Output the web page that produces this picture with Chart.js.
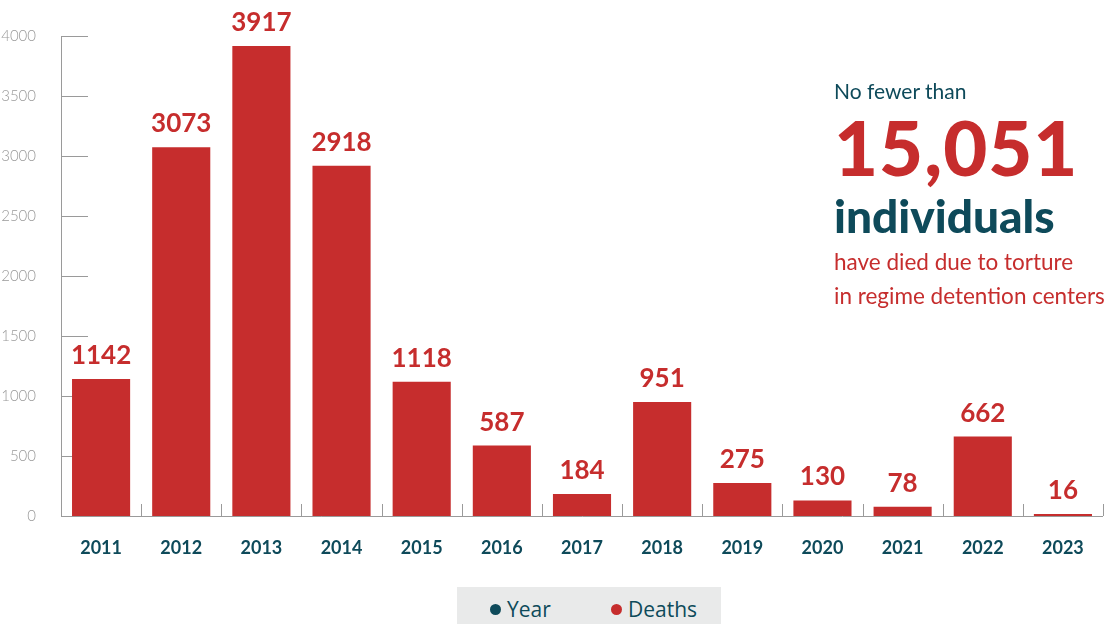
<!DOCTYPE html>
<html>
<head>
<meta charset="utf-8">
<script src="https://cdn.jsdelivr.net/npm/chart.js@4.4.1/dist/chart.umd.min.js"></script>
<style>
  html, body { margin: 0; padding: 0; background: #fff; }
  #wrap { position: relative; width: 1106px; height: 624px; font-family: Lato, sans-serif; }
  canvas { position: absolute; left: 0; top: 0; }
  .note { position: absolute; left: 834px; white-space: nowrap; }
  #legend { position: absolute; left: 457px; top: 587px; width: 264px; height: 37px; background: #e9eaea;
            font-family: 'Open Sans', sans-serif; font-size: 21px; color: #0e4a5a; }
  #legend div { position: absolute; top: 9px; line-height: 26px; }
  #legend span.dot { position: absolute; left: -17px; top: 8px; width: 11px; height: 11px; border-radius: 50%; }
</style>
</head>
<body>
<div id="wrap">
  <canvas id="deathsChart" width="1106" height="624"></canvas>
  <div class="note" style="top:78px;font-size:21px;color:#0e4a5a;">No fewer than</div>
  <div class="note" style="top:101px;font-size:76px;font-weight:900;color:#c62d2d;letter-spacing:1px;">15,051</div>
  <div class="note" style="top:188px;font-size:46px;font-weight:900;color:#0e4a5a;">individuals</div>
  <div class="note" style="top:248px;font-size:22.5px;color:#c62d2d;">have died due to torture</div>
  <div class="note" style="top:282px;font-size:22.5px;color:#c62d2d;">in regime detention centers</div>
  <div id="legend">
    <div style="left:50px"><span class="dot" style="background:#0e4a5a"></span>Year</div>
    <div style="left:171px"><span class="dot" style="background:#c62d2d"></span>Deaths</div>
  </div>
</div>
<script>
// --- Data ---
const years = ['2011', '2012', '2013', '2014', '2015', '2016', '2017', '2018', '2019', '2020', '2021', '2022', '2023'];
const deaths = [1142, 3073, 3917, 2918, 1118, 587, 184, 951, 275, 130, 78, 662, 16];
const yTicks = [0, 500, 1000, 1500, 2000, 2500, 3000, 3500, 4000];

const RED = '#c62d2d';
const TEAL = '#0e4a5a';
const AXIS = '#9a9a9a';

// axis lines + inward tick marks, drawn under the bars
const axesPlugin = {
    id: 'axesPlugin',
    beforeDatasetsDraw(chart) {
        const { ctx, chartArea: a, scales: { x, y } } = chart;
        const step = x.getPixelForValue(1) - x.getPixelForValue(0);
        ctx.save();
        ctx.strokeStyle = AXIS;
        ctx.lineWidth = 1;
        ctx.beginPath();
        ctx.moveTo(a.left + 0.5, a.top);
        ctx.lineTo(a.left + 0.5, a.bottom + 0.5);
        ctx.lineTo(a.right, a.bottom + 0.5);
        yTicks.forEach(v => {
            const py = Math.round(y.getPixelForValue(v)) + 0.5;
            ctx.moveTo(a.left, py);
            ctx.lineTo(a.left + 27, py);
        });
        years.forEach((yr, i) => {
            const px = Math.round(x.getPixelForValue(i) + step / 2) + 0.5;
            ctx.moveTo(px, a.bottom);
            ctx.lineTo(px, a.bottom - 12);
        });
        ctx.stroke();
        ctx.restore();
    }
};

// value labels above bars
const valueLabels = {
    id: 'valueLabels',
    afterDatasetsDraw(chart) {
        const { ctx } = chart;
        const meta = chart.getDatasetMeta(0);
        ctx.save();
        ctx.fillStyle = RED;
        ctx.font = 'bold 26px Lato, sans-serif';
        ctx.textAlign = 'center';
        ctx.textBaseline = 'alphabetic';
        meta.data.forEach((bar, i) => {
            ctx.fillText(deaths[i], bar.x, bar.y - 15);
        });
        ctx.restore();
    }
};

const ctx = document.getElementById('deathsChart').getContext('2d');
new Chart(ctx, {
    type: 'bar',
    data: {
        labels: years,
        datasets: [{
            label: 'Deaths',
            data: deaths,
            backgroundColor: RED,
            categoryPercentage: 0.725,
            barPercentage: 1
        }]
    },
    options: {
        responsive: false,
        animation: false,
        layout: { padding: { top: 36, right: 3, left: 0, bottom: 0 } },
        plugins: { legend: { display: false }, tooltip: { enabled: false } },
        scales: {
            x: {
                grid: { display: false },
                border: { display: false },
                ticks: { color: TEAL, font: { family: 'Lato', size: 18, weight: 'bold' }, padding: 13 },
                afterFit: s => { s.height = 108; }
            },
            y: {
                min: 0, max: 4000,
                afterBuildTicks: s => { s.ticks = yTicks.map(v => ({ value: v })); },
                grid: { display: false },
                border: { display: false },
                ticks: { color: '#999999', font: { family: 'Lato', size: 15, weight: 300 }, padding: 17, callback: v => String(v) },
                afterFit: s => { s.width = 61; }
            }
        }
    },
    plugins: [axesPlugin, valueLabels]
});
</script>
</body>
</html>
